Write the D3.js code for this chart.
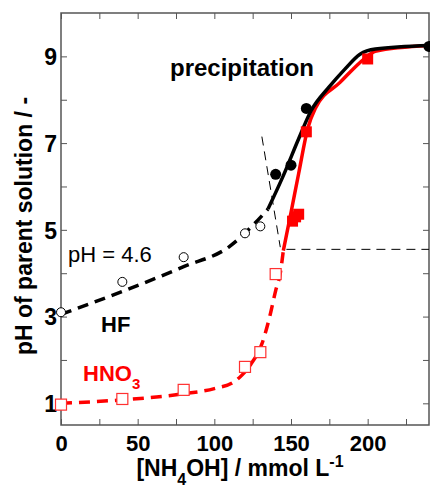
<!DOCTYPE html>
<html>
<head>
<meta charset="utf-8">
<script src="https://cdn.jsdelivr.net/npm/d3@7"></script>
<style>
  body { margin: 0; background: #fff; }
  text { font-family: "Liberation Sans", Arial, sans-serif; }
</style>
</head>
<body>
<div id="chart"></div>
<script>
// measured points
const hfOpen = [[0, 3.1], [40, 3.8], [80, 4.37], [120, 4.92], [130, 5.08]];
const hfFilled = [[140, 6.28], [150, 6.49], [160, 7.8], [240, 9.23]];
const hno3Open = [[0, 0.97], [40, 1.1], [80, 1.31], [120, 1.84], [130, 2.18], [140, 3.98]];
const hno3Filled = [[151, 5.2], [153, 5.3], [155, 5.36], [160, 7.26], [200, 8.94]];

// fitted curves
const hfDashed = [[0, 3.05], [40, 3.58], [80, 4.15], [110, 4.62], [125, 5.1], [135, 5.48]];
const hfSolid = [[135, 5.48], [145, 6.25], [155, 7.1], [163, 7.74], [175, 8.3], [185, 8.7], [195, 9.05], [205, 9.17], [240, 9.25]];
const hno3Dashed = [[0, 1.0], [40, 1.08], [80, 1.22], [100, 1.34], [113, 1.5], [118, 1.65], [124, 1.91], [131, 2.37], [136, 2.98], [140, 3.6], [143, 4.0], [145, 4.52]];
const hno3Solid = [[145, 4.52], [150, 5.4], [155, 6.3], [161, 7.35], [166, 7.81], [182, 8.4], [198, 8.95], [205, 9.12], [240, 9.25]];

// guide lines
const guideSteep = [[131, 7.15], [143, 4.6]];
const guidePlateau = [[147, 4.55], [240, 4.55]];

const xTicks = [0, 50, 100, 150, 200];
const xMinor = [25, 75, 125, 175, 225];
const yTicks = [1, 3, 5, 7, 9];
const yMinor = [2, 4, 6, 8];

const width = 430, height = 490;
const margin = {left: 61, right: 1, top: 13, bottom: 65};

const svg = d3.select("#chart").append("svg")
    .attr("width", width)
    .attr("height", height);

const x = d3.scaleLinear().domain([0, 240]).range([margin.left, width - margin.right]);
const y = d3.scaleLinear().domain([0.5, 10]).range([height - margin.bottom, margin.top]);

const frame = "#555";

// frame
svg.append("rect")
    .attr("x", x(0)).attr("y", y(10))
    .attr("width", x(240) - x(0)).attr("height", y(0.5) - y(10))
    .attr("fill", "none").attr("stroke", frame).attr("stroke-width", 1.5);

// bottom axis
const xAxis = svg.append("g")
    .attr("transform", `translate(0,${y(0.5)})`)
    .call(d3.axisBottom(x).tickValues(xTicks.concat(xMinor)).tickSizeInner(-6).tickSizeOuter(0)
        .tickFormat(d => xTicks.includes(d) ? d : ""));
xAxis.select(".domain").remove();
xAxis.selectAll("line").attr("stroke", frame);
xAxis.selectAll("text").attr("y", 10).attr("font-size", 22).attr("font-weight", "bold").attr("fill", "#000");

// top ticks
const xTop = svg.append("g")
    .attr("transform", `translate(0,${y(10)})`)
    .call(d3.axisTop(x).tickValues(xTicks.concat(xMinor)).tickSizeInner(-6).tickSizeOuter(0).tickFormat(""));
xTop.select(".domain").remove();
xTop.selectAll("line").attr("stroke", frame);

// left axis
const yAxis = svg.append("g")
    .attr("transform", `translate(${x(0)},0)`)
    .call(d3.axisLeft(y).tickValues(yTicks.concat(yMinor)).tickSizeInner(-6).tickSizeOuter(0)
        .tickFormat(d => yTicks.includes(d) ? d : ""));
yAxis.select(".domain").remove();
yAxis.selectAll("line").attr("stroke", frame);
yAxis.selectAll("text").attr("x", -4).attr("dy", "0.36em").attr("font-size", 23).attr("font-weight", "bold").attr("fill", "#000");

// right ticks
const yRight = svg.append("g")
    .attr("transform", `translate(${x(240)},0)`)
    .call(d3.axisRight(y).tickValues(yTicks.concat(yMinor)).tickSizeInner(-6).tickSizeOuter(0).tickFormat(""));
yRight.select(".domain").remove();
yRight.selectAll("line").attr("stroke", frame);

// axis titles
const xTitle = svg.append("text")
    .attr("x", 240).attr("y", 476)
    .attr("text-anchor", "middle")
    .attr("font-size", 23).attr("font-weight", "bold");
xTitle.append("tspan").text("[NH");
xTitle.append("tspan").text("4").attr("font-size", 16).attr("dy", 9);
xTitle.append("tspan").text("OH] / mmol L").attr("dy", -9);
xTitle.append("tspan").text("-1").attr("font-size", 16).attr("dy", -9);

svg.append("text")
    .attr("transform", "translate(32,226) rotate(-90)")
    .attr("text-anchor", "middle")
    .attr("font-size", 23).attr("font-weight", "bold")
    .text("pH of parent solution / -");

const line = d3.line().x(d => x(d[0])).y(d => y(d[1])).curve(d3.curveMonotoneX);
const straight = d3.line().x(d => x(d[0])).y(d => y(d[1]));

// guides
svg.append("path").datum(guideSteep).attr("d", straight)
    .attr("fill", "none").attr("stroke", "#000").attr("stroke-width", 1).attr("stroke-dasharray", "9,6");
svg.append("path").datum(guidePlateau).attr("d", straight)
    .attr("fill", "none").attr("stroke", "#000").attr("stroke-width", 1).attr("stroke-dasharray", "9,6");

// curves
svg.append("path").datum(hno3Dashed).attr("d", line)
    .attr("fill", "none").attr("stroke", "#ff0000").attr("stroke-width", 3.5).attr("stroke-dasharray", "11,7");
svg.append("path").datum(hno3Solid).attr("d", line)
    .attr("fill", "none").attr("stroke", "#ff0000").attr("stroke-width", 3.5);
svg.append("path").datum(hfDashed).attr("d", line)
    .attr("fill", "none").attr("stroke", "#000").attr("stroke-width", 3.5).attr("stroke-dasharray", "11,7");
svg.append("path").datum(hfSolid).attr("d", line)
    .attr("fill", "none").attr("stroke", "#000").attr("stroke-width", 3.5);

// markers
const sq = 11;
svg.selectAll(".hno3o").data(hno3Open).join("rect")
    .attr("x", d => x(d[0]) - sq / 2).attr("y", d => y(d[1]) - sq / 2)
    .attr("width", sq).attr("height", sq)
    .attr("fill", "#fff").attr("stroke", "#ff3030").attr("stroke-width", 1.2);
svg.selectAll(".hno3f").data(hno3Filled).join("rect")
    .attr("x", d => x(d[0]) - sq / 2).attr("y", d => y(d[1]) - sq / 2)
    .attr("width", sq).attr("height", sq)
    .attr("fill", "#ff0000");
svg.selectAll(".hfo").data(hfOpen).join("circle")
    .attr("cx", d => x(d[0])).attr("cy", d => y(d[1])).attr("r", 4.5)
    .attr("fill", "#fff").attr("stroke", "#000").attr("stroke-width", 1);
svg.selectAll(".hff").data(hfFilled).join("circle")
    .attr("cx", d => x(d[0])).attr("cy", d => y(d[1])).attr("r", 5.5)
    .attr("fill", "#000");

// annotations
svg.append("text").attr("x", 170).attr("y", 76)
    .attr("font-size", 24).attr("font-weight", "bold").text("precipitation");
svg.append("text").attr("x", 68).attr("y", 262)
    .attr("font-size", 22).text("pH = 4.6");
svg.append("text").attr("x", 101).attr("y", 332)
    .attr("font-size", 22).attr("font-weight", "bold").text("HF");
const hno3Label = svg.append("text").attr("x", 83).attr("y", 381)
    .attr("font-size", 22).attr("font-weight", "bold").attr("fill", "#ff0000");
hno3Label.append("tspan").text("HNO");
hno3Label.append("tspan").text("3").attr("font-size", 15).attr("dy", 8);
</script>
</body>
</html>
